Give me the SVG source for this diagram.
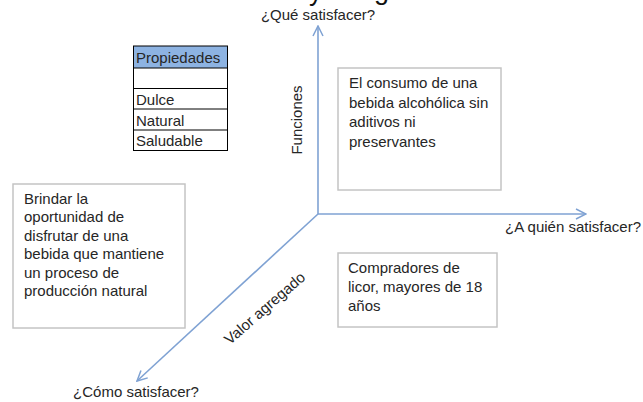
<svg xmlns="http://www.w3.org/2000/svg" width="643" height="402" viewBox="0 0 643 402">
<defs>
<style>
text{font-family:"Liberation Sans",Arial,sans-serif;fill:#262626;font-size:15px}
.axis{stroke:#7fa2d3;stroke-width:1.6;fill:none}
.box{fill:#ffffff;stroke:#c4c4c4;stroke-width:1.5}
.tl{stroke:#000;stroke-width:1;fill:none}
.title{font-size:27px;fill:#111}
</style>
<marker id="arr" viewBox="0 0 12 12" refX="11" refY="6" markerWidth="12" markerHeight="12" markerUnits="userSpaceOnUse" orient="auto">
<path d="M1,1 L11,6 L1,11" fill="none" stroke="#7fa2d3" stroke-width="1.5"/>
</marker>
</defs>
<rect width="643" height="402" fill="#ffffff"/>
<g id="title">
<text class="title" x="309" y="0">y</text>
<text class="title" x="374" y="-1">g</text>
</g>
<g id="connectors">
<line class="axis" x1="318" y1="214" x2="318" y2="26" marker-end="url(#arr)"/>
<line class="axis" x1="318" y1="214" x2="586" y2="214" marker-end="url(#arr)"/>
<line class="axis" x1="318" y1="214" x2="137" y2="381" marker-end="url(#arr)"/>
</g>
<g id="axis-labels">
<text x="318" y="20" text-anchor="middle">¿Qué satisfacer?</text>
<text x="641" y="232" text-anchor="end">¿A quién satisfacer?</text>
<text x="136" y="397" text-anchor="middle">¿Cómo satisfacer?</text>
<text x="0" y="0" font-size="13.5" text-anchor="middle" transform="translate(302,120) rotate(-90)">Funciones</text>
<text x="0" y="0" font-size="11" text-anchor="middle" transform="translate(268,312) rotate(-41)">Valor agregado</text>
</g>
<g id="table">
<rect x="133" y="46" width="95" height="22" fill="#8db3e2"/>
<line class="tl" x1="133" y1="46" x2="228" y2="46" stroke-width="1.5"/>
<line class="tl" x1="133" y1="68" x2="228" y2="68"/>
<line class="tl" x1="133" y1="88.5" x2="228" y2="88.5"/>
<line class="tl" x1="133" y1="109" x2="228" y2="109"/>
<line class="tl" x1="133" y1="130" x2="228" y2="130" stroke-width="1.3"/>
<line class="tl" x1="133" y1="150.5" x2="228" y2="150.5"/>
<line class="tl" x1="133.5" y1="46" x2="133.5" y2="151"/>
<line class="tl" x1="227.5" y1="46" x2="227.5" y2="151"/>
<text x="136" y="63">Propiedades</text>
<text x="136" y="105">Dulce</text>
<text x="136" y="126">Natural</text>
<text x="136" y="146">Saludable</text>
</g>
<g id="node-funciones">
<rect class="box" x="338" y="68" width="163" height="122"/>
<text x="349" y="88">El consumo de una</text>
<text x="349" y="107.5">bebida alcohólica sin</text>
<text x="349" y="127">aditivos ni</text>
<text x="349" y="146.5">preservantes</text>
</g>
<g id="node-valor">
<rect class="box" x="13" y="184" width="172" height="144"/>
<text x="24" y="203.5">Brindar la</text>
<text x="24" y="222">oportunidad de</text>
<text x="24" y="240.5">disfrutar de una</text>
<text x="24" y="259">bebida que mantiene</text>
<text x="24" y="277.5">un proceso de</text>
<text x="24" y="296">producción  natural</text>
</g>
<g id="node-clientes">
<rect class="box" x="338" y="253" width="159" height="74"/>
<text x="348" y="273">Compradores de</text>
<text x="348" y="292">licor, mayores de 18</text>
<text x="348" y="311">años</text>
</g>
</svg>
